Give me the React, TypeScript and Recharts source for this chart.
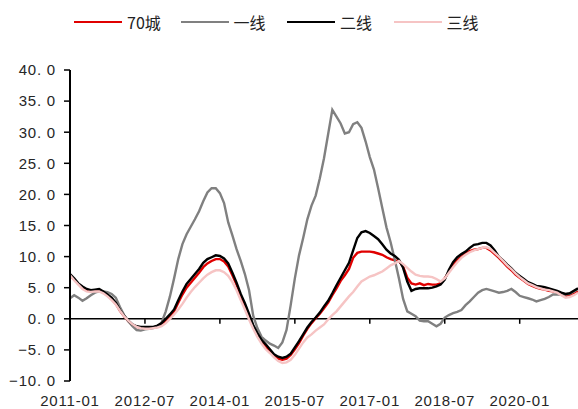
import { Line, LineChart, ReferenceLine, XAxis, YAxis } from 'recharts';

// Monthly labels, 2011-01 .. 2021-03
const START_YEAR = 2011;
const MONTH_COUNT = 123;
const months: string[] = Array.from({ length: MONTH_COUNT }, (_, i) => {
  const y = START_YEAR + Math.floor(i / 12);
  const m = (i % 12) + 1;
  return `${y}-${m < 10 ? '0' : ''}${m}`;
});

// YoY change of new home prices (%), one row per year
const city70 = [
  7.0, 6.3, 5.6, 5.0, 4.6, 4.5, 4.6, 4.6, 4.3, 3.8, 3.2, 2.4,
  1.3, 0.4, -0.4, -1.0, -1.3, -1.4, -1.4, -1.4, -1.4, -1.2, -0.8, -0.3,
  0.4, 1.2, 2.6, 3.9, 5.0, 5.8, 6.6, 7.4, 8.3, 8.9, 9.3, 9.6,
  9.6, 9.2, 8.4, 7.0, 5.5, 3.7, 2.1, 0.4, -1.3, -2.6, -3.7, -4.5,
  -5.2, -5.9, -6.4, -6.6, -6.4, -5.8, -4.9, -3.9, -2.7, -1.6, -0.7, 0.1,
  0.8, 1.7, 2.6, 3.8, 4.9, 6.1, 7.0, 8.0, 9.8, 10.6, 10.8, 10.8,
  10.8, 10.7, 10.5, 10.3, 9.9, 9.6, 9.4, 9.3, 8.4, 6.6, 5.7, 5.5,
  5.7, 5.4, 5.6, 5.5, 5.5, 5.7, 6.5, 7.6, 8.6, 9.4, 10.0, 10.5,
  10.9, 11.1, 11.2, 11.4, 11.4, 11.0, 10.4, 9.8, 9.1, 8.4, 7.8, 7.1,
  6.6, 6.1, 5.6, 5.3, 5.0, 4.8, 4.7, 4.5, 4.4, 4.2, 3.9, 3.6,
  3.7, 4.0, 4.4,
];

const tier1 = [
  3.3, 3.8, 3.4, 2.9, 3.3, 3.8, 4.2, 4.4, 4.4, 4.3, 4.0, 3.4,
  1.9, 0.6, -0.4, -1.2, -1.8, -1.9, -1.7, -1.6, -1.5, -1.3, -0.6, 1.2,
  3.6, 6.5, 9.6, 12.0, 13.6, 14.8, 16.0, 17.3, 18.9, 20.3, 21.0, 21.0,
  20.2, 18.6, 15.5, 13.4, 11.2, 9.3, 7.2, 4.6, 0.5, -1.5, -2.9, -3.5,
  -4.0, -4.3, -4.7, -3.8, -1.8, 2.2, 6.5, 10.2, 13.0, 16.0, 18.2, 19.8,
  22.6, 25.8, 29.7, 33.6, 32.5, 31.4, 29.8, 30.0, 31.3, 31.6, 30.7, 28.5,
  26.0, 24.0, 21.0, 17.8, 14.7, 12.3, 9.5, 6.5, 3.2, 1.2, 0.8, 0.4,
  -0.3, -0.4, -0.4, -0.8, -1.2, -0.8, 0.2, 0.6, 0.9, 1.1, 1.4, 2.2,
  2.8, 3.5, 4.2, 4.6, 4.8, 4.6, 4.4, 4.2, 4.3, 4.5, 4.8, 4.3,
  3.7, 3.5, 3.3, 3.1, 2.8, 3.0, 3.2, 3.5, 3.9, 3.9, 3.9, 3.9,
  4.0, 4.4, 4.8,
];

const tier2 = [
  7.2, 6.5, 5.7, 5.2, 4.8, 4.6, 4.7, 4.8, 4.4, 3.9, 3.4, 2.6,
  1.4, 0.5, -0.3, -0.9, -1.2, -1.3, -1.3, -1.3, -1.3, -1.1, -0.7, 0.0,
  0.7, 1.5, 3.0, 4.4, 5.6, 6.4, 7.2, 8.0, 9.0, 9.6, 9.9, 10.2,
  10.1, 9.7, 8.9, 7.4, 5.8, 4.0, 2.5, 0.8, -1.0, -2.3, -3.4, -4.1,
  -4.9, -5.7, -6.1, -6.3, -6.1, -5.6, -4.6, -3.6, -2.5, -1.4, -0.5, 0.2,
  1.0, 2.0, 2.9, 4.1, 5.4, 6.6, 7.8, 9.0, 11.0, 13.0, 13.9, 14.1,
  13.8, 13.3, 12.8, 12.0, 11.1, 10.5, 10.1, 9.5, 8.2, 6.0, 4.5, 4.8,
  4.9, 4.9, 4.9, 5.0, 5.2, 5.5, 6.3, 7.9, 9.1, 9.9, 10.4, 10.8,
  11.4, 11.9, 12.0, 12.2, 12.2, 11.8, 11.0, 10.0, 9.4, 8.7, 8.1, 7.4,
  6.9, 6.4, 5.9, 5.6, 5.3, 5.2, 5.1, 4.9, 4.7, 4.5, 4.2, 4.0,
  4.1, 4.5, 4.9,
];

const tier3 = [
  7.0, 6.2, 5.5, 4.8, 4.4, 4.3, 4.4, 4.4, 4.1, 3.6, 3.0, 2.3,
  1.3, 0.4, -0.3, -0.9, -1.3, -1.5, -1.6, -1.6, -1.5, -1.4, -1.2, -0.7,
  0.0, 0.7, 1.5, 2.4, 3.4, 4.3, 5.1, 5.8, 6.5, 7.1, 7.5, 7.8,
  7.8, 7.5, 6.9, 5.9, 4.6, 3.0, 1.5, -0.1, -1.6, -2.9, -4.0, -4.9,
  -5.5, -6.2, -6.8, -7.1, -7.0, -6.6, -5.8, -4.8, -3.8, -3.0, -2.5, -1.9,
  -1.4, -0.9, -0.1, 0.6, 1.2, 2.0, 2.8, 3.6, 4.3, 5.2, 6.0, 6.4,
  6.8, 7.0, 7.3, 7.6, 8.1, 8.6, 8.9, 9.3, 8.8, 8.2, 7.6, 7.1,
  6.9, 6.8, 6.8, 6.7, 6.4, 6.0, 6.5, 7.4, 8.3, 9.1, 9.8, 10.3,
  10.7, 11.0, 11.2, 11.4, 11.5, 11.2, 10.6, 10.0, 9.3, 8.6, 8.0, 7.3,
  6.7, 6.2, 5.7, 5.4, 5.1, 4.9, 4.7, 4.6, 4.4, 4.2, 3.8, 3.4,
  3.5, 3.8, 4.2,
];

const yTicks = [-10, -5, 0, 5, 10, 15, 20, 25, 30, 35, 40];

const series = [
  { key: 'city70', name: '70城', color: '#E00000' },
  { key: 'tier1', name: '一线', color: '#808080' },
  { key: 'tier2', name: '二线', color: '#000000' },
  { key: 'tier3', name: '三线', color: '#F6C4C4' },
];

const data = months.map((month, i) => ({
  month,
  city70: city70[i],
  tier1: tier1[i],
  tier2: tier2[i],
  tier3: tier3[i],
}));

const W = 578;
const H = 409;
const PLOT_TOP = 70;
const X_AXIS_H = 28;
const PLOT_H = H - PLOT_TOP - X_AXIS_H;
const Y_MIN = -10;
const Y_MAX = 40;
const ZERO_Y = PLOT_TOP + (PLOT_H * Y_MAX) / (Y_MAX - Y_MIN);

const axisFont = { fontFamily: '"Liberation Sans", Arial, sans-serif', fontSize: 15, fill: '#262626', letterSpacing: 0.8 };

const fmtY = (v: number) => (v < 0 ? '−' : '') + Math.abs(v).toFixed(1).replace('.', '. ');

// labels sit under the plot, tick marks hang off the zero line
function MonthTick({ x, payload }: any) {
  return (
    <g>
      <line x1={x} x2={x} y1={ZERO_Y} y2={ZERO_Y + 5} stroke="#000" strokeWidth={1.5} />
      <text x={x} y={H - 3} textAnchor="middle" {...axisFont}>
        {payload.value}
      </text>
    </g>
  );
}

function LegendRow() {
  return (
    <div
      style={{
        position: 'absolute',
        top: 12,
        left: 74,
        display: 'flex',
        fontFamily: '"Noto Sans CJK SC", sans-serif',
        fontSize: 16,
        color: '#222',
        lineHeight: '20px',
      }}
    >
      {series.map((s) => (
        <div key={s.key} style={{ display: 'flex', alignItems: 'center', width: 106.5 }}>
          <span style={{ display: 'inline-block', width: 48, height: 2.5, background: s.color, marginRight: 5 }} />
          <span>{s.name}</span>
        </div>
      ))}
    </div>
  );
}

export default function App() {
  return (
    <div style={{ position: 'absolute', left: 0, top: 0, width: W, height: H, background: '#fff' }}>
      <LegendRow />
      <LineChart width={W} height={H} data={data} margin={{ top: PLOT_TOP, right: 0, bottom: 0, left: 0 }}>
        <XAxis
          dataKey="month"
          height={X_AXIS_H}
          interval={17}
          axisLine={false}
          tickLine={false}
          tick={<MonthTick />}
        />
        <YAxis
          width={70}
          domain={[Y_MIN, Y_MAX]}
          ticks={yTicks}
          tickFormatter={fmtY}
          tick={axisFont}
          axisLine={{ stroke: '#000', strokeWidth: 2 }}
          tickLine={{ stroke: '#000', strokeWidth: 1.5 }}
          tickSize={6}
          tickMargin={8}
        />
        <ReferenceLine y={0} stroke="#000" strokeWidth={1.5} />
        {series.map((s) => (
          <Line
            key={s.key}
            dataKey={s.key}
            name={s.name}
            type="linear"
            stroke={s.color}
            strokeWidth={2.4}
            dot={false}
            isAnimationActive={false}
          />
        ))}
      </LineChart>
    </div>
  );
}
